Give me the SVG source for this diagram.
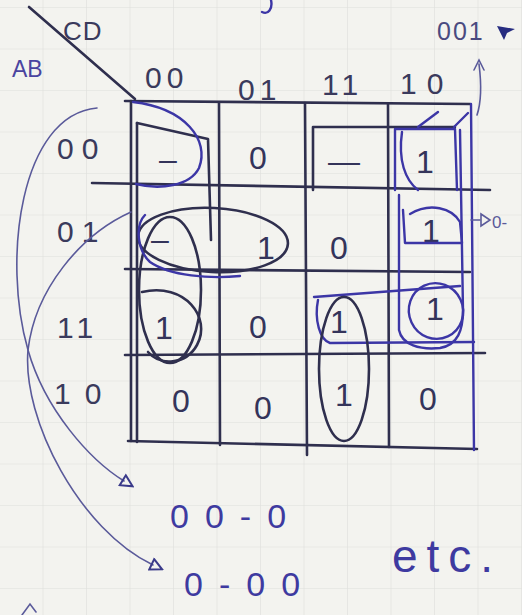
<svg xmlns="http://www.w3.org/2000/svg" width="522" height="615" viewBox="0 0 522 615">
  <defs>
    <pattern id="paper" patternUnits="userSpaceOnUse" x="0" y="8" width="43.5" height="41.5">
      <path d="M43.5,0 V41.5 M0,41.5 H43.5" fill="none" stroke="#dedfdb" stroke-width="1.2"/>
    </pattern>
    <marker id="openTri" viewBox="0 0 10 10" refX="2" refY="5" markerWidth="9" markerHeight="9" orient="auto">
      <path d="M1,1 L9,5 L1,9 Z" fill="none" stroke="#3a3a8a" stroke-width="1.4"/>
    </marker>
  </defs>
  <style>
    .ink { fill: none; stroke: #2f2f4e; stroke-width: 2.6; stroke-linecap: round; stroke-linejoin: round; }
    .blue { fill: none; stroke: #3c36a6; stroke-width: 2.4; stroke-linecap: round; stroke-linejoin: round; }
    .thin { fill: none; stroke: #5a5a9a; stroke-width: 1.6; stroke-linecap: round; }
    .lbl { font-family: "Liberation Sans", "DejaVu Sans", sans-serif; font-size: 30px; letter-spacing: 5px; fill: #3a3a5c; }
    .cell { font-family: "Liberation Sans", "DejaVu Sans", sans-serif; font-size: 32px; fill: #34345a; text-anchor: middle; }
    .note { font-family: "Liberation Sans", "DejaVu Sans", sans-serif; font-size: 34px; letter-spacing: 16px; fill: #3e3aa0; }
  </style>

  <rect width="522" height="615" fill="#f3f3ef"/>
  <rect width="522" height="615" fill="url(#paper)"/>

  <!-- stray pen marks -->
  <path class="blue" d="M271,0 C273,9 268,15 262,12" stroke-width="2"/>
  <path class="thin" d="M22,615 L30,604 L36,612"/>

  <!-- header -->
  <g id="header">
    <path class="ink" d="M29,7 L135,99" stroke="#232355" stroke-width="3"/>
    <text class="lbl" x="63" y="40" style="font-size:26px;letter-spacing:1px">CD</text>
    <text class="lbl" x="12" y="77" style="font-size:23px;letter-spacing:0px;fill:#4a44a0">AB</text>
    <text class="lbl" x="145" y="88">00</text>
    <text class="lbl" x="238" y="100">01</text>
    <text class="lbl" x="322" y="95">11</text>
    <text class="lbl" x="400" y="94" style="letter-spacing:10px">10</text>
    <text class="lbl" x="57" y="159" style="letter-spacing:8px">00</text>
    <text class="lbl" x="57" y="242" style="letter-spacing:8px">01</text>
    <text class="lbl" x="57" y="338">11</text>
    <text class="lbl" x="54" y="404" style="letter-spacing:14px">10</text>
  </g>

  <!-- grid -->
  <g id="grid">
    <path class="ink" d="M125,101 L470,104"/>
    <path class="ink" d="M92,183 L490,190"/>
    <path class="ink" d="M125,269 L470,272"/>
    <path class="ink" d="M125,355 L485,353"/>
    <path class="ink" d="M128,441 L477,449"/>
    <path class="ink" d="M131,101 L131,441"/>
    <path class="ink" d="M219,103 L220,445"/>
    <path class="ink" d="M305,103 L307,455"/>
    <path class="ink" d="M388,104 L389,447"/>
    <path class="blue" d="M471,104 L474,450"/>
  </g>

  <!-- cells -->
  <g id="r00c00"><text class="cell" x="168" y="170">–</text></g>
  <g id="r00c01"><text class="cell" x="258" y="169">0</text></g>
  <g id="r00c11"><text class="cell" x="344" y="172">—</text></g>
  <g id="r00c10"><text class="cell" x="425" y="173">1</text></g>
  <g id="r01c00"><text class="cell" x="160" y="250">–</text></g>
  <g id="r01c01"><text class="cell" x="266" y="259">1</text></g>
  <g id="r01c11"><text class="cell" x="339" y="259">0</text></g>
  <g id="r01c10"><text class="cell" x="431" y="242">1</text></g>
  <g id="r11c00"><text class="cell" x="164" y="339">1</text></g>
  <g id="r11c01"><text class="cell" x="258" y="338">0</text></g>
  <g id="r11c11"><text class="cell" x="339" y="333">1</text></g>
  <g id="r11c10"><text class="cell" x="435" y="320">1</text></g>
  <g id="r10c00"><text class="cell" x="181" y="412">0</text></g>
  <g id="r10c01"><text class="cell" x="263" y="419">0</text></g>
  <g id="r10c11"><text class="cell" x="344" y="406">1</text></g>
  <g id="r10c10"><text class="cell" x="428" y="410">0</text></g>

  <!-- groupings -->
  <g id="loops">
    <path class="ink" d="M137,123 L208,139 L211,240"/>
    <path class="ink" d="M137,123 L137,442" stroke-width="2"/>
    <path class="blue" d="M133,102 C185,108 210,140 199,168 C190,186 160,190 136,184"/>
    <ellipse class="ink" cx="170" cy="290" rx="31" ry="73"/>
    <path class="ink" d="M142,292 C185,282 212,318 197,345 C186,365 160,366 148,352"/>
    <ellipse class="ink" cx="213" cy="240" rx="75" ry="32" transform="rotate(3 213 240)"/>
    <path class="blue" d="M145,215 C135,225 137,250 150,262 C170,276 210,279 240,276"/>
    <path class="ink" d="M313,190 L313,127 L455,127"/>
    <path class="blue" d="M395,190 L395,129 L455,129 L457,190"/>
    <path class="blue" d="M402,132 C398,160 405,180 418,190"/>
    <path class="blue" d="M399,195 L399,330 C402,345 420,350 440,348 C458,345 463,330 463,310 L460,130"/>
    <path class="blue" d="M403,210 L405,243 L462,243 L460,222 C452,208 430,202 410,214"/>
    <path class="blue" d="M314,297 L460,286 M318,300 C314,320 320,340 330,343 L474,342"/>
    <ellipse class="blue" cx="436" cy="311" rx="27" ry="28" transform="rotate(-25 436 311)"/>
    <ellipse class="ink" cx="344" cy="369" rx="25" ry="72"/>
    <path class="blue" d="M418,127 L438,112 M454,127 L468,113"/>
  </g>

  <!-- connectors and annotations -->
  <g id="connectors">
    <path class="thin" d="M97,108 C20,115 2,260 28,350 C45,410 90,460 124,481" marker-end="url(#openTri)"/>
    <path class="thin" d="M131,212 C80,235 35,290 28,350 C22,420 80,530 153,565" marker-end="url(#openTri)"/>
    <path class="thin" d="M477,115 C482,100 481,80 479,64"/>
    <path class="thin" d="M474,70 L479,60 L484,70"/>
    <path class="thin" d="M471,220 L480,220"/>
    <path class="thin" d="M481,214 L490,220 L481,226 Z"/>
    <path fill="#262c80" d="M497,26 L515,29 L507,33 L504,40 Z"/>
  </g>

  <g id="notes">
    <text class="note" x="437" y="40" style="font-size:25px;letter-spacing:2px;fill:#4a4a80">001</text>
    <text class="note" x="492" y="228" style="font-size:17px;letter-spacing:0px;fill:#5a5a9a">0-</text>
    <text class="note" x="170" y="528">00-0</text>
    <text class="note" x="184" y="596">0-00</text>
    <text class="note" x="392" y="572" style="font-size:46px;letter-spacing:9px">etc.</text>
  </g>
</svg>
